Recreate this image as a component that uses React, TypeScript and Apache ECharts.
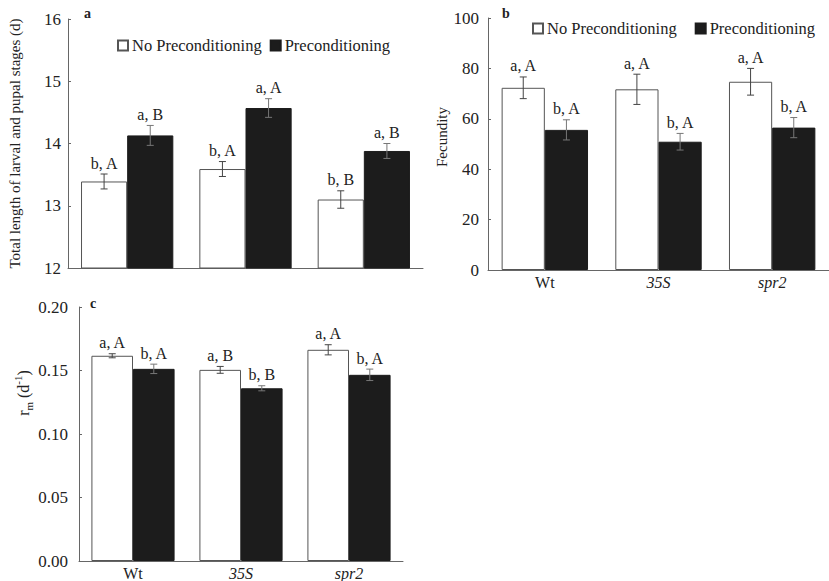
import React, { useEffect, useRef } from "react";
import * as echarts from "echarts";

const categories = ["Wt", "35S", "spr2"];
const seriesNames = ["No Preconditioning", "Preconditioning"];

// Panel a: total length of larval and pupal stages (d)
const lengthNoPre = [13.39, 13.59, 13.1];
const lengthNoPreErr = [0.12, 0.12, 0.14];
const lengthPre = [14.13, 14.57, 13.88];
const lengthPreErr = [0.16, 0.15, 0.12];
const lengthNoPreLetters = ["b, A", "b, A", "b, B"];
const lengthPreLetters = ["a, B", "a, A", "a, B"];

// Panel b: fecundity
const fecNoPre = [72.3, 71.7, 74.7];
const fecNoPreErr = [4.3, 6.0, 5.3];
const fecPre = [55.6, 50.9, 56.5];
const fecPreErr = [4.0, 3.3, 4.0];
const fecNoPreLetters = ["a, A", "a, A", "a, A"];
const fecPreLetters = ["b, A", "b, A", "b, A"];

// Panel c: rm (d-1)
const rmNoPre = [0.1616, 0.1505, 0.1663];
const rmNoPreErr = [0.0016, 0.0027, 0.004];
const rmPre = [0.1513, 0.136, 0.1466];
const rmPreErr = [0.0037, 0.002, 0.0045];
const rmNoPreLetters = ["a, A", "a, B", "a, A"];
const rmPreLetters = ["b, A", "b, B", "b, A"];

const FONT = "Liberation Serif";
const TXT = "#222";
const AXIS = "#666";

export default function App() {
  const ref = useRef<HTMLDivElement>(null);
  useEffect(() => {
    if (!ref.current) return;
    const chart = echarts.init(ref.current, undefined, { renderer: "svg" });

    const gaps = [0.22, 0.24, 0.23];

    const errSeries = (
      panel: number,
      sIdx: number,
      vals: number[],
      errs: number[],
      letters: string[]
    ) => ({
      type: "custom",
      name: seriesNames[sIdx] + " err",
      xAxisIndex: panel,
      yAxisIndex: panel,
      z: 10,
      silent: true,
      data: vals.map((v, i) => [i, v, errs[i]]),
      renderItem: (params: any, api: any) => {
        const ci = api.value(0);
        const v = api.value(1);
        const e = api.value(2);
        const catW = api.size([1, 0])[0];
        const barW = (catW * (1 - gaps[panel])) / 2;
        const cx = api.coord([ci, v])[0] + (sIdx === 0 ? -barW / 2 : barW / 2);
        const top = api.coord([ci, v + e])[1];
        const bot = api.coord([ci, v - e])[1];
        const st = { stroke: sIdx === 0 ? "#444" : "#777", lineWidth: 1 };
        const cap = 3.5;
        return {
          type: "group",
          children: [
            { type: "line", shape: { x1: cx, y1: top, x2: cx, y2: bot }, style: st },
            { type: "line", shape: { x1: cx - cap, y1: top, x2: cx + cap, y2: top }, style: st },
            { type: "line", shape: { x1: cx - cap, y1: bot, x2: cx + cap, y2: bot }, style: st },
            {
              type: "text",
              x: cx,
              y: top - 3,
              style: {
                text: letters[params.dataIndex],
                fill: TXT,
                fontFamily: FONT,
                fontSize: 16,
                align: "center",
                verticalAlign: "bottom",
              },
            },
          ],
        };
      },
    });

    const barSeries = (panel: number, sIdx: number, vals: number[]) => ({
      type: "bar",
      name: seriesNames[sIdx],
      xAxisIndex: panel,
      yAxisIndex: panel,
      data: vals,
      barGap: "0%",
      barCategoryGap: Math.round(gaps[panel] * 100) + "%",
      itemStyle:
        sIdx === 0
          ? { color: "#ffffff", borderColor: "#555", borderWidth: 1 }
          : { color: "#1c1c1c", borderColor: "#1c1c1c", borderWidth: 1 },
    });

    const xAxisBase = (grid: number, showLabel: boolean) => ({
      type: "category",
      gridIndex: grid,
      data: categories,
      axisLine: { lineStyle: { color: AXIS, width: 1 } },
      axisTick: { inside: true, length: 4, lineStyle: { color: AXIS } },
      axisLabel: {
        show: showLabel,
        color: TXT,
        fontFamily: FONT,
        fontSize: 16,
        margin: 4,
        formatter: (v: string) => (v === "Wt" ? v : `{i|${v}}`),
        rich: { i: { fontStyle: "italic", fontFamily: FONT, fontSize: 16, color: TXT } },
      },
    });

    const yAxisBase = (grid: number, extra: any) => ({
      type: "value",
      gridIndex: grid,
      splitLine: { show: false },
      axisLine: { show: true, lineStyle: { color: AXIS, width: 1 } },
      axisTick: { show: true, inside: true, length: 3, lineStyle: { color: AXIS } },
      nameLocation: "middle",
      nameRotate: 90,
      nameTextStyle: { color: TXT, fontFamily: FONT, fontSize: 15 },
      ...extra,
    });

    const legendBase = (left: number, top: number, gap: number) => ({
      left,
      top,
      itemWidth: 10,
      itemHeight: 10,
      itemGap: gap,
      icon: "rect",
      data: seriesNames,
      selectedMode: false,
      textStyle: { color: TXT, fontFamily: FONT, fontSize: 16.5, padding: [0, 0, 0, -1] },
      padding: 0,
    });

    const titleStyle = { fontSize: 14, fontWeight: "bold", fontFamily: FONT, color: TXT };

    chart.setOption({
      animation: false,
      backgroundColor: "#ffffff",
      textStyle: { fontFamily: FONT },
      title: [
        { text: "a", left: 84, top: 6, padding: 0, textStyle: titleStyle },
        { text: "b", left: 502, top: 6, padding: 0, textStyle: titleStyle },
        { text: "c", left: 90, top: 296, padding: 0, textStyle: titleStyle },
      ],
      legend: [legendBase(117, 37, 8), legendBase(532, 20, 18)],
      grid: [
        { left: 68, top: 19, width: 355, height: 249 },
        { left: 488, top: 18, width: 344, height: 252 },
        { left: 79, top: 307, width: 324, height: 254 },
      ],
      xAxis: [xAxisBase(0, false), xAxisBase(1, true), xAxisBase(2, true)],
      yAxis: [
        yAxisBase(0, {
          min: 12,
          max: 16,
          interval: 1,
          name: "Total length of larval and pupal stages (d)",
          nameGap: 46,
          axisLabel: { color: TXT, fontFamily: FONT, fontSize: 17, margin: 7 },
        }),
        yAxisBase(1, {
          min: 0,
          max: 100,
          interval: 20,
          name: "Fecundity",
          nameGap: 36,
          nameTextStyle: { color: TXT, fontFamily: FONT, fontSize: 15, padding: [0, 0, 0, 14] },
          axisLabel: { color: TXT, fontFamily: FONT, fontSize: 17, margin: 9 },
        }),
        yAxisBase(2, {
          min: 0,
          max: 0.2,
          interval: 0.05,
          name: "{r|r}{sub|m}{r| (d}{sup|-1}{r|)}",
          nameGap: 42,
          nameTextStyle: {
            color: TXT,
            fontFamily: FONT,
            fontSize: 16,
            padding: [0, 0, 0, 82],
            rich: {
              r: { fontFamily: FONT, fontSize: 16, color: TXT, lineHeight: 22, verticalAlign: "middle" },
              sub: { fontFamily: FONT, fontSize: 11, color: TXT, lineHeight: 11, verticalAlign: "bottom" },
              sup: { fontFamily: FONT, fontSize: 11, color: TXT, lineHeight: 11, verticalAlign: "top" },
            },
          },
          axisLabel: {
            color: TXT,
            fontFamily: FONT,
            fontSize: 17,
            margin: 11,
            formatter: (v: number) => v.toFixed(2),
          },
        }),
      ],
      series: [
        barSeries(0, 0, lengthNoPre),
        barSeries(0, 1, lengthPre),
        errSeries(0, 0, lengthNoPre, lengthNoPreErr, lengthNoPreLetters),
        errSeries(0, 1, lengthPre, lengthPreErr, lengthPreLetters),
        barSeries(1, 0, fecNoPre),
        barSeries(1, 1, fecPre),
        errSeries(1, 0, fecNoPre, fecNoPreErr, fecNoPreLetters),
        errSeries(1, 1, fecPre, fecPreErr, fecPreLetters),
        barSeries(2, 0, rmNoPre),
        barSeries(2, 1, rmPre),
        errSeries(2, 0, rmNoPre, rmNoPreErr, rmNoPreLetters),
        errSeries(2, 1, rmPre, rmPreErr, rmPreLetters),
      ],
    });
    return () => chart.dispose();
  }, []);
  return (
    <div
      ref={ref}
      style={{ position: "fixed", left: 0, top: 0, width: 829, height: 581, background: "#fff" }}
    />
  );
}
